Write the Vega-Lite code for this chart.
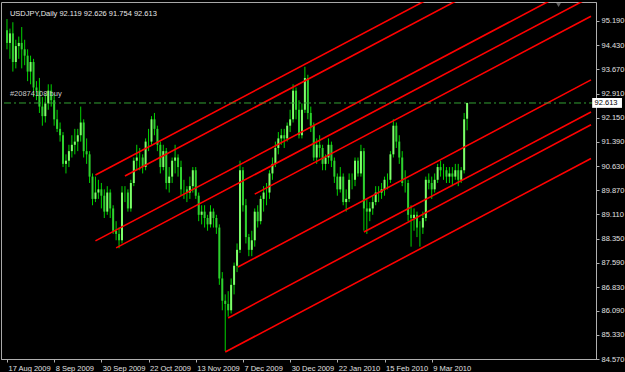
{
  "$schema": "https://vega.github.io/schema/vega-lite/v6.json",
  "width": 595,
  "height": 357,
  "autosize": {"type": "none"},
  "padding": {"left": 1, "top": 2, "right": 29, "bottom": 13},
  "background": "#000000",
  "config": {
    "view": {"stroke": "#a8a8a8", "strokeWidth": 1},
    "axis": {"domainColor": "#b0b0b0", "tickColor": "#b0b0b0", "labelColor": "#e0e0e0", "labelFont": "Liberation Sans", "labelFontSize": 7.5, "grid": false, "title": null, "labelOverlap": false, "labelFlush": false, "labelBound": false}
  },
  "resolve": {"axis": {"x": "independent", "y": "independent"}},
  "datasets": {
    "candles": [
      {"i":0,"o":94.9,"h":95.25,"l":94.3,"c":94.5},
      {"i":1,"o":94.5,"h":94.95,"l":94.0,"c":94.8},
      {"i":2,"o":94.8,"h":95.15,"l":93.6,"c":93.9},
      {"i":3,"o":93.9,"h":94.6,"l":93.7,"c":94.4},
      {"i":4,"o":94.4,"h":94.7,"l":94.0,"c":94.5},
      {"i":5,"o":94.5,"h":95.0,"l":93.7,"c":94.3},
      {"i":6,"o":94.3,"h":94.6,"l":93.8,"c":94.1},
      {"i":7,"o":94.1,"h":94.3,"l":93.3,"c":93.6},
      {"i":8,"o":93.6,"h":94.1,"l":93.2,"c":93.9},
      {"i":9,"o":93.9,"h":94.0,"l":92.8,"c":93.1},
      {"i":10,"o":93.1,"h":93.3,"l":92.7,"c":93.0},
      {"i":11,"o":93.0,"h":93.4,"l":92.3,"c":92.5},
      {"i":12,"o":92.5,"h":92.8,"l":91.9,"c":92.2},
      {"i":13,"o":92.2,"h":92.9,"l":92.0,"c":92.6},
      {"i":14,"o":92.6,"h":93.2,"l":92.4,"c":93.0},
      {"i":15,"o":93.0,"h":93.2,"l":92.5,"c":92.7},
      {"i":16,"o":92.7,"h":92.9,"l":91.9,"c":92.1},
      {"i":17,"o":92.1,"h":92.4,"l":91.7,"c":91.8},
      {"i":18,"o":91.8,"h":92.0,"l":91.4,"c":91.6},
      {"i":19,"o":91.6,"h":91.7,"l":90.6,"c":90.7},
      {"i":20,"o":90.7,"h":91.0,"l":90.4,"c":90.8},
      {"i":21,"o":90.8,"h":91.3,"l":90.6,"c":91.1},
      {"i":22,"o":91.1,"h":91.6,"l":90.9,"c":91.3},
      {"i":23,"o":91.3,"h":91.8,"l":91.0,"c":91.4},
      {"i":24,"o":91.4,"h":91.8,"l":91.1,"c":91.6},
      {"i":25,"o":91.6,"h":92.5,"l":91.4,"c":92.0},
      {"i":26,"o":92.0,"h":92.1,"l":90.9,"c":91.1},
      {"i":27,"o":91.1,"h":91.5,"l":90.7,"c":91.0},
      {"i":28,"o":91.0,"h":91.1,"l":90.1,"c":90.3},
      {"i":29,"o":90.3,"h":90.4,"l":89.4,"c":89.6},
      {"i":30,"o":89.6,"h":90.3,"l":89.5,"c":89.8},
      {"i":31,"o":89.8,"h":90.2,"l":89.6,"c":89.9},
      {"i":32,"o":89.9,"h":90.1,"l":89.3,"c":89.7},
      {"i":33,"o":89.7,"h":89.9,"l":89.0,"c":89.2},
      {"i":34,"o":89.2,"h":90.0,"l":89.1,"c":89.8},
      {"i":35,"o":89.8,"h":89.9,"l":89.0,"c":89.3},
      {"i":36,"o":89.3,"h":89.4,"l":88.5,"c":88.6},
      {"i":37,"o":88.6,"h":88.9,"l":88.3,"c":88.5},
      {"i":38,"o":88.5,"h":88.7,"l":88.05,"c":88.3},
      {"i":39,"o":88.3,"h":90.0,"l":88.2,"c":89.8},
      {"i":40,"o":89.8,"h":90.0,"l":89.5,"c":89.8},
      {"i":41,"o":89.8,"h":89.9,"l":89.2,"c":89.3},
      {"i":42,"o":89.3,"h":90.2,"l":89.2,"c":90.1},
      {"i":43,"o":90.1,"h":90.9,"l":90.0,"c":90.8},
      {"i":44,"o":90.8,"h":91.3,"l":90.5,"c":90.9},
      {"i":45,"o":90.9,"h":91.2,"l":90.5,"c":90.9},
      {"i":46,"o":90.9,"h":91.0,"l":90.4,"c":90.6},
      {"i":47,"o":90.6,"h":91.5,"l":90.5,"c":91.4},
      {"i":48,"o":91.4,"h":91.8,"l":91.1,"c":91.4},
      {"i":49,"o":91.4,"h":92.2,"l":91.3,"c":92.1},
      {"i":50,"o":92.1,"h":92.3,"l":91.6,"c":91.8},
      {"i":51,"o":91.8,"h":91.9,"l":91.1,"c":91.3},
      {"i":52,"o":91.3,"h":91.4,"l":90.4,"c":90.6},
      {"i":53,"o":90.6,"h":91.3,"l":90.5,"c":91.1},
      {"i":54,"o":91.1,"h":91.2,"l":89.9,"c":90.1},
      {"i":55,"o":90.1,"h":90.6,"l":89.8,"c":90.3},
      {"i":56,"o":90.3,"h":90.9,"l":90.1,"c":90.8},
      {"i":57,"o":90.8,"h":91.3,"l":90.4,"c":90.9},
      {"i":58,"o":90.9,"h":91.0,"l":90.3,"c":90.6},
      {"i":59,"o":90.6,"h":90.8,"l":89.7,"c":89.9},
      {"i":60,"o":89.9,"h":90.2,"l":89.6,"c":89.9},
      {"i":61,"o":89.9,"h":90.0,"l":89.5,"c":89.8},
      {"i":62,"o":89.8,"h":90.3,"l":89.6,"c":90.0},
      {"i":63,"o":90.0,"h":90.6,"l":89.8,"c":90.5},
      {"i":64,"o":90.5,"h":90.6,"l":89.6,"c":89.7},
      {"i":65,"o":89.7,"h":89.8,"l":88.9,"c":89.1},
      {"i":66,"o":89.1,"h":89.4,"l":88.8,"c":89.2},
      {"i":67,"o":89.2,"h":89.4,"l":88.7,"c":89.0},
      {"i":68,"o":89.0,"h":89.1,"l":88.6,"c":88.8},
      {"i":69,"o":88.8,"h":89.4,"l":88.7,"c":89.2},
      {"i":70,"o":89.2,"h":89.3,"l":88.7,"c":89.0},
      {"i":71,"o":89.0,"h":89.1,"l":88.5,"c":88.7},
      {"i":72,"o":88.7,"h":88.8,"l":86.9,"c":87.1},
      {"i":73,"o":87.1,"h":87.3,"l":86.1,"c":86.4},
      {"i":74,"o":86.4,"h":86.6,"l":84.82,"c":86.3},
      {"i":75,"o":86.3,"h":86.7,"l":85.9,"c":86.1},
      {"i":76,"o":86.1,"h":87.1,"l":86.0,"c":86.9},
      {"i":77,"o":86.9,"h":87.6,"l":86.6,"c":87.5},
      {"i":78,"o":87.5,"h":88.2,"l":87.3,"c":88.0},
      {"i":79,"o":88.0,"h":90.8,"l":87.9,"c":90.5},
      {"i":80,"o":90.5,"h":90.6,"l":89.2,"c":89.4},
      {"i":81,"o":89.4,"h":89.6,"l":88.2,"c":88.4},
      {"i":82,"o":88.4,"h":88.5,"l":87.8,"c":88.0},
      {"i":83,"o":88.0,"h":88.6,"l":87.8,"c":88.3},
      {"i":84,"o":88.3,"h":89.3,"l":88.1,"c":89.2},
      {"i":85,"o":89.2,"h":89.4,"l":88.7,"c":88.9},
      {"i":86,"o":88.9,"h":89.7,"l":88.8,"c":89.6},
      {"i":87,"o":89.6,"h":90.0,"l":89.2,"c":89.8},
      {"i":88,"o":89.8,"h":90.1,"l":89.4,"c":89.8},
      {"i":89,"o":89.8,"h":90.5,"l":89.6,"c":90.4},
      {"i":90,"o":90.4,"h":90.9,"l":90.2,"c":90.7},
      {"i":91,"o":90.7,"h":91.4,"l":90.6,"c":91.2},
      {"i":92,"o":91.2,"h":91.7,"l":91.0,"c":91.5},
      {"i":93,"o":91.5,"h":91.8,"l":91.3,"c":91.6},
      {"i":94,"o":91.6,"h":91.8,"l":91.2,"c":91.5},
      {"i":95,"o":91.5,"h":92.0,"l":91.4,"c":91.9},
      {"i":96,"o":91.9,"h":92.4,"l":91.7,"c":92.1},
      {"i":97,"o":92.1,"h":93.2,"l":92.0,"c":93.0},
      {"i":98,"o":93.0,"h":93.1,"l":92.1,"c":92.4},
      {"i":99,"o":92.4,"h":92.7,"l":91.5,"c":91.6},
      {"i":100,"o":91.6,"h":92.6,"l":91.5,"c":92.4},
      {"i":101,"o":92.4,"h":93.75,"l":92.3,"c":93.4},
      {"i":102,"o":93.4,"h":93.5,"l":92.1,"c":92.3},
      {"i":103,"o":92.3,"h":92.5,"l":91.7,"c":91.9},
      {"i":104,"o":91.9,"h":92.0,"l":90.8,"c":90.9},
      {"i":105,"o":90.9,"h":91.5,"l":90.7,"c":91.3},
      {"i":106,"o":91.3,"h":91.6,"l":90.9,"c":91.2},
      {"i":107,"o":91.2,"h":91.3,"l":90.5,"c":90.7},
      {"i":108,"o":90.7,"h":91.0,"l":90.5,"c":90.9},
      {"i":109,"o":90.9,"h":91.5,"l":90.7,"c":91.3},
      {"i":110,"o":91.3,"h":91.4,"l":90.6,"c":90.8},
      {"i":111,"o":90.8,"h":90.9,"l":90.1,"c":90.3},
      {"i":112,"o":90.3,"h":90.4,"l":89.7,"c":89.9},
      {"i":113,"o":89.9,"h":90.6,"l":89.8,"c":90.3},
      {"i":114,"o":90.3,"h":90.4,"l":89.4,"c":89.5},
      {"i":115,"o":89.5,"h":89.9,"l":89.2,"c":89.6},
      {"i":116,"o":89.6,"h":90.4,"l":89.5,"c":90.2},
      {"i":117,"o":90.2,"h":90.4,"l":89.9,"c":90.2},
      {"i":118,"o":90.2,"h":90.9,"l":90.0,"c":90.8},
      {"i":119,"o":90.8,"h":90.9,"l":90.3,"c":90.4},
      {"i":120,"o":90.4,"h":91.3,"l":90.3,"c":91.1},
      {"i":121,"o":91.1,"h":91.2,"l":88.6,"c":89.3},
      {"i":122,"o":89.3,"h":89.6,"l":88.5,"c":89.2},
      {"i":123,"o":89.2,"h":89.5,"l":88.9,"c":89.3},
      {"i":124,"o":89.3,"h":89.7,"l":89.1,"c":89.5},
      {"i":125,"o":89.5,"h":90.0,"l":89.4,"c":89.8},
      {"i":126,"o":89.8,"h":90.0,"l":89.5,"c":89.8},
      {"i":127,"o":89.8,"h":90.1,"l":89.6,"c":89.9},
      {"i":128,"o":89.9,"h":90.3,"l":89.7,"c":90.2},
      {"i":129,"o":90.2,"h":90.4,"l":89.9,"c":90.2},
      {"i":130,"o":90.2,"h":91.1,"l":90.1,"c":91.0},
      {"i":131,"o":91.0,"h":92.1,"l":90.9,"c":91.9},
      {"i":132,"o":91.9,"h":92.0,"l":91.2,"c":91.4},
      {"i":133,"o":91.4,"h":91.6,"l":90.7,"c":90.9},
      {"i":134,"o":90.9,"h":91.1,"l":90.0,"c":90.1},
      {"i":135,"o":90.1,"h":90.5,"l":89.8,"c":90.1},
      {"i":136,"o":90.1,"h":90.2,"l":88.9,"c":89.1},
      {"i":137,"o":89.1,"h":89.4,"l":88.1,"c":89.0},
      {"i":138,"o":89.0,"h":89.3,"l":88.6,"c":89.1},
      {"i":139,"o":89.1,"h":89.2,"l":88.4,"c":88.7},
      {"i":140,"o":88.7,"h":88.9,"l":88.1,"c":88.7},
      {"i":141,"o":88.7,"h":89.2,"l":88.5,"c":89.0},
      {"i":142,"o":89.0,"h":90.3,"l":88.9,"c":90.2},
      {"i":143,"o":90.2,"h":90.4,"l":89.9,"c":90.1},
      {"i":144,"o":90.1,"h":90.3,"l":89.6,"c":89.9},
      {"i":145,"o":89.9,"h":90.4,"l":89.8,"c":90.2},
      {"i":146,"o":90.2,"h":90.7,"l":90.1,"c":90.6},
      {"i":147,"o":90.6,"h":90.8,"l":90.3,"c":90.5},
      {"i":148,"o":90.5,"h":90.7,"l":90.2,"c":90.5},
      {"i":149,"o":90.5,"h":90.6,"l":90.1,"c":90.3},
      {"i":150,"o":90.3,"h":90.6,"l":90.1,"c":90.4},
      {"i":151,"o":90.4,"h":90.6,"l":90.0,"c":90.3},
      {"i":152,"o":90.3,"h":90.7,"l":90.2,"c":90.5},
      {"i":153,"o":90.5,"h":90.7,"l":90.0,"c":90.2},
      {"i":154,"o":90.2,"h":90.6,"l":90.1,"c":90.5},
      {"i":155,"o":90.5,"h":92.3,"l":90.4,"c":92.1},
      {"i":156,"o":92.119,"h":92.626,"l":91.754,"c":92.613}
    ],
    "lines": [
      {"id":"L1","i":30,"p":90.35},{"id":"L1","i":198,"p":98.58},
      {"id":"L2","i":40,"p":90.32},{"id":"L2","i":198,"p":98.06},
      {"id":"L3","i":30,"p":88.28},{"id":"L3","i":198,"p":96.51},
      {"id":"L4","i":37,"p":88.06},{"id":"L4","i":198,"p":95.95},
      {"id":"L5","i":84,"p":89.75},{"id":"L5","i":198,"p":95.34},
      {"id":"L6","i":78.3,"p":87.46},{"id":"L6","i":198,"p":93.34},
      {"id":"L7","i":121,"p":88.56},{"id":"L7","i":198,"p":92.33},
      {"id":"L8","i":75,"p":85.86},{"id":"L8","i":198,"p":91.93},
      {"id":"L9","i":74,"p":84.79},{"id":"L9","i":198,"p":90.87}
    ],
    "notes": [
      {"kind":"title","x":1.0,"p":95.41,"t":"USDJPY,Daily  92.119 92.626 91.754 92.613"},
      {"kind":"order","x":1.0,"p":92.76,"t":"#20874108 buy"}
    ]
  },
  "layer": [
    {
      "data": {"name": "candles"},
      "mark": {"type": "rule", "color": "#00d400", "strokeWidth": 1},
      "encoding": {
        "x": {"field": "i", "type": "quantitative", "scale": {"domain": [-0.33, 198], "nice": false, "zero": false},
              "axis": {"orient": "bottom", "values": [0,16,32,48,64,80,96,112,128,144], "tickSize": 3, "labelAlign": "left", "labelBaseline": "top", "labelPadding": 2, "labelOffset": 1, "labelOverlap": false,
                       "labelExpr": "['17 Aug 2009','8 Sep 2009','30 Sep 2009','22 Oct 2009','13 Nov 2009','7 Dec 2009','30 Dec 2009','22 Jan 2010','15 Feb 2010','9 Mar 2010'][datum.value/16]"}},
        "y": {"field": "l", "type": "quantitative", "scale": {"domain": [84.57, 95.786], "nice": false, "zero": false},
              "axis": {"orient": "right", "values": [84.57,85.33,86.09,86.83,87.59,88.35,89.11,89.87,90.63,91.39,92.15,92.91,93.67,94.43,95.19], "format": ".3f", "tickSize": 3, "labelPadding": 2, "labelBaseline": "middle", "labelOverlap": false}},
        "y2": {"field": "h"}
      }
    },
    {
      "data": {"name": "candles"},
      "mark": {"type": "bar", "size": 2},
      "encoding": {
        "x": {"field": "i", "type": "quantitative", "axis": null},
        "y": {"field": "o", "type": "quantitative", "axis": null},
        "y2": {"field": "c"},
        "color": {"condition": {"test": "datum.c >= datum.o", "value": "#7dff6a"}, "value": "#2fd02f"}
      }
    },
    {
      "data": {"name": "lines"},
      "mark": {"type": "line", "color": "#ff0000", "strokeWidth": 1.6, "clip": true},
      "encoding": {
        "x": {"field": "i", "type": "quantitative", "axis": null},
        "y": {"field": "p", "type": "quantitative", "axis": null},
        "detail": {"field": "id"}
      }
    },
    {
      "data": {"values": [{"p": 92.613}]},
      "mark": {"type": "rule", "color": "#33a033", "strokeWidth": 1, "strokeDash": [7, 3, 2, 3]},
      "encoding": {
        "y": {"field": "p", "type": "quantitative", "axis": null}
      }
    },
    {
      "data": {"name": "notes"},
      "transform": [{"filter": "datum.kind == 'order'"}],
      "mark": {"type": "text", "align": "left", "baseline": "bottom", "font": "Liberation Sans", "fontSize": 7.5, "color": "#c8c8c8"},
      "encoding": {
        "x": {"field": "x", "type": "quantitative", "axis": null},
        "y": {"field": "p", "type": "quantitative", "axis": null},
        "text": {"field": "t"}
      }
    },
    {
      "data": {"name": "notes"},
      "transform": [{"filter": "datum.kind == 'title'"}],
      "mark": {"type": "text", "align": "left", "baseline": "middle", "font": "Liberation Sans", "fontSize": 7.5, "color": "#e8e8e8"},
      "encoding": {
        "x": {"field": "x", "type": "quantitative", "axis": null},
        "y": {"field": "p", "type": "quantitative", "axis": null},
        "text": {"field": "t"}
      }
    },
    {
      "data": {"values": [{"x": 187, "p": 95.69}]},
      "mark": {"type": "point", "shape": "triangle-down", "filled": true, "size": 22, "color": "#8a8a8a"},
      "encoding": {
        "x": {"field": "x", "type": "quantitative", "axis": null},
        "y": {"field": "p", "type": "quantitative", "axis": null}
      }
    },
    {
      "data": {"values": [{"x1": 198.4, "x2": 208.5, "p1": 92.77, "p2": 92.46}]},
      "mark": {"type": "rect", "color": "#ffffff"},
      "encoding": {
        "x": {"field": "x1", "type": "quantitative", "axis": null},
        "x2": {"field": "x2"},
        "y": {"field": "p1", "type": "quantitative", "axis": null},
        "y2": {"field": "p2"}
      }
    },
    {
      "data": {"values": [{"x": 199.2, "p": 92.613, "t": "92.613"}]},
      "mark": {"type": "text", "align": "left", "baseline": "middle", "font": "Liberation Sans", "fontSize": 7.5, "color": "#000000"},
      "encoding": {
        "x": {"field": "x", "type": "quantitative", "axis": null},
        "y": {"field": "p", "type": "quantitative", "axis": null},
        "text": {"field": "t"}
      }
    }
  ]
}
